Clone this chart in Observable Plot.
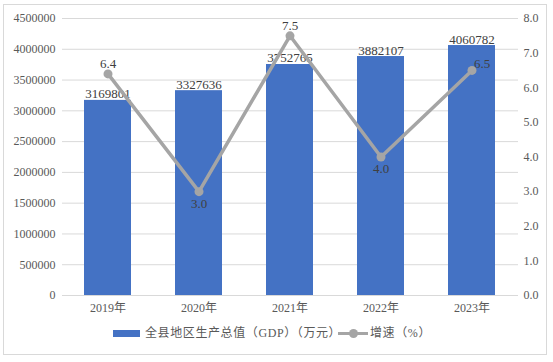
<!DOCTYPE html>
<html><head><meta charset="utf-8">
<script src="https://cdn.jsdelivr.net/npm/d3@7"></script>
<script src="https://cdn.jsdelivr.net/npm/@observablehq/plot@0.6"></script>
<style>
html,body{margin:0;padding:0;background:#fff;}
#wrap{position:relative;width:553px;height:362px;overflow:hidden;font-family:"Liberation Serif","Noto Sans CJK SC",serif;}
#frame{position:absolute;left:3px;top:4px;width:544px;height:351px;border:1px solid #d9d9d9;box-sizing:border-box;}
#chart{position:absolute;left:0;top:0;}
.leg{position:absolute;font-size:12px;color:#595959;white-space:nowrap;line-height:14px;letter-spacing:0.6px;}
</style></head>
<body>
<div id="wrap"><div id="frame"></div><div id="chart"></div>
<div id="legend"></div></div>
<script>
const years = ["2019年","2020年","2021年","2022年","2023年"];
const gdp = [3169801, 3327636, 3752765, 3882107, 4060782];
const growth = [6.4, 3.0, 7.5, 4.0, 6.5];
const leftTicks = [0,500000,1000000,1500000,2000000,2500000,3000000,3500000,4000000,4500000];
const rightTicks = [0,1,2,3,4,5,6,7,8];
const seriesNames = ["全县地区生产总值（GDP）（万元）","增速（%）"];

const k = 4500000 / 8;
const data = years.map((y,i)=>({year:y, gdp:gdp[i], g:growth[i], i}));
const above = data.filter(d=>d.i===0||d.i===2);
const below = data.filter(d=>d.i===1||d.i===3);
const right = data.filter(d=>d.i===4);

const chart = Plot.plot({
  width:553, height:320,
  marginLeft:62, marginRight:35, marginTop:18, marginBottom:25,
  style:{fontFamily:"Liberation Serif, Noto Sans CJK SC, serif", fontSize:"12px", color:"#595959", background:"transparent"},
  x:{domain:years, paddingInner:0.48, paddingOuter:0.24, label:null},
  y:{domain:[0,4500000], label:null},
  marks:[
    Plot.gridY(leftTicks,{stroke:"#d9d9d9", strokeOpacity:1, strokeWidth:1}),
    Plot.axisY(leftTicks,{anchor:"left", tickSize:0, tickPadding:7, label:null, tickFormat:d=>String(d), fill:"#595959", fontSize:12}),
    Plot.axisY(rightTicks.map(v=>v*k),{anchor:"right", tickSize:0, tickPadding:5, label:null, tickFormat:d=>(d/k).toFixed(1), fill:"#595959", fontSize:12}),
    Plot.axisX({tickSize:0, tickPadding:8, label:null, fill:"#595959", fontSize:12}),
    Plot.barY(data,{x:"year", y:"gdp", fill:"#4472C4"}),
    Plot.text(data,{x:"year", y:"gdp", text:d=>String(d.gdp), lineAnchor:"bottom", dy:-2, fill:"#404040", fontSize:13}),
    Plot.line(data,{x:"year", y:d=>d.g*k, stroke:"#A5A5A5", strokeWidth:3.5}),
    Plot.dot(data,{x:"year", y:d=>d.g*k, r:4.5, fill:"#A5A5A5", stroke:"none"}),
    Plot.text(above,{x:"year", y:d=>d.g*k, text:d=>d.g.toFixed(1), lineAnchor:"bottom", dy:-6, fill:"#404040", fontSize:13}),
    Plot.text(below,{x:"year", y:d=>d.g*k, text:d=>d.g.toFixed(1), lineAnchor:"top", dy:7, fill:"#404040", fontSize:13}),
    Plot.text(right,{x:"year", y:d=>d.g*k, text:d=>d.g.toFixed(1), textAnchor:"start", lineAnchor:"middle", dx:2, dy:-7, fill:"#404040", fontSize:13})
  ]
});
document.getElementById("chart").appendChild(chart);

const leg = document.getElementById("legend");
leg.innerHTML = `
<div style="position:absolute;left:113px;top:330px;width:27px;height:7px;background:#4472C4"></div>
<div class="leg" style="left:145px;top:326px">${seriesNames[0]}</div>
<div style="position:absolute;left:338px;top:332px;width:30px;height:3px;background:#A5A5A5"></div>
<div style="position:absolute;left:349px;top:329px;width:9px;height:9px;border-radius:50%;background:#A5A5A5"></div>
<div class="leg" style="left:370px;top:326px">${seriesNames[1]}</div>`;
</script>
</body></html>
